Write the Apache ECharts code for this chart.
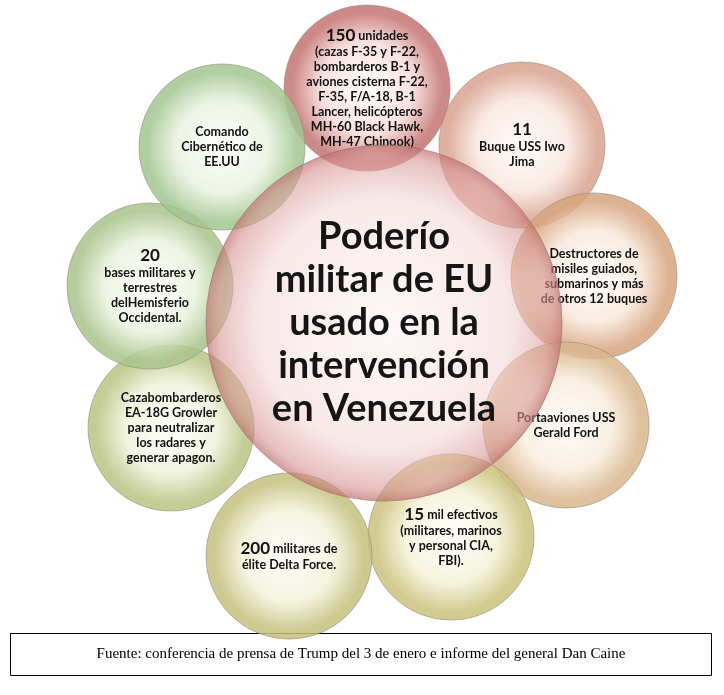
<!DOCTYPE html>
<html><head><meta charset="utf-8">
<script src="https://cdn.jsdelivr.net/npm/echarts@6/dist/echarts.min.js"></script>
<style>html,body{margin:0;background:#fff}#c{width:724px;height:695px}</style>
</head><body><div id="c"></div>
<script>
const outerX = [367, 522, 594, 566, 451, 289, 171, 150, 222];
const outerY = [88, 145, 276, 425, 537, 556, 428, 286, 147];
const outerNum = ['150', '11', '', '', '15', '200', '', '20', ''];
const outerText = [
 ' unidades\n(cazas F-35 y F-22,\nbombarderos B-1 y\naviones cisterna F-22,\nF-35, F/A-18, B-1\nLancer, helicópteros\nMH-60 Black Hawk,\nMH-47 Chinook)',
 '\nBuque USS Iwo\nJima',
 'Destructores de\nmisiles guiados,\nsubmarinos y más\nde otros 12 buques',
 'Portaaviones USS\nGerald Ford',
 ' mil efectivos\n(militares, marinos\ny personal CIA,\nFBI).',
 ' militares de\nélite Delta Force.',
 'Cazabombarderos\nEA-18G Growler\npara neutralizar\nlos radares y\ngenerar apagon.',
 '\nbases militares y\nterrestres\ndelHemisferio\nOccidental.',
 'Comando\nCibernético de\nEE.UU'
];
const outerEdge = ['196,116,114','217,162,142','214,164,126','216,182,140','203,194,124','196,192,126','184,196,130','168,196,140','162,198,144'];
const outerMid = ['246,220,218','248,230,222','248,232,218','248,236,220','244,242,216','242,242,218','238,242,218','234,242,222','232,242,224'];
const centerText = 'Poderío\nmilitar de EU\nusado en la\nintervención\nen Venezuela';
const sourceText = 'Fuente: conferencia de prensa de Trump del 3 de enero e informe del general Dan Caine';

function grad(mid, edge, a){
  return new echarts.graphic.RadialGradient(0.5,0.5,0.5,[
    {offset:0,color:'rgba(255,253,251,'+a+')'},{offset:0.55,color:'rgba('+mid+','+a+')'},
    {offset:0.9,color:'rgba('+edge+','+a+')'},{offset:1,color:'rgba('+edge+','+a+')'}]);
}
const outerData = outerX.map((x,i)=>({
  value:[x, outerY[i]],
  itemStyle:{color:grad(outerMid[i], outerEdge[i], 0.85), opacity:1, borderColor:'rgba(150,140,120,0.6)', borderWidth:1},
  label:{show:true, formatter: (outerNum[i]?'{n|'+outerNum[i]+'}':'') + '{t|'+outerText[i].split('\n').join('}\n{t|')+'}'}
}));
const chart = echarts.init(document.getElementById('c'));
chart.setOption({
  animation:false,
  grid:{left:0,right:0,top:0,bottom:0},
  xAxis:{type:'value',min:0,max:724,show:false},
  yAxis:{type:'value',min:0,max:695,inverse:true,show:false},
  graphic:[{type:'group',children:[
    {type:'rect',shape:{x:10.5,y:633.5,width:701,height:42},style:{fill:'#fff',stroke:'#000',lineWidth:1}},
    {type:'text',x:361,y:654,style:{text:sourceText,font:'15px "Liberation Serif"',fill:'#000',align:'center',verticalAlign:'middle'}}
  ]}],
  series:[
   {type:'scatter',symbol:'circle',symbolSize:166,z:2,data:outerData,itemStyle:{opacity:1},
    label:{position:'inside',color:'#111',align:'center',
      rich:{n:{fontFamily:'Lato',fontWeight:'bold',fontSize:17,color:'#111',lineHeight:18},
            t:{fontFamily:'Lato',fontWeight:'bold',fontSize:12.5,color:'#111',lineHeight:15}}}},
   {type:'scatter',symbol:'circle',symbolSize:356,z:3,itemStyle:{opacity:1},
    data:[{value:[384,323],itemStyle:{opacity:1,color:new echarts.graphic.RadialGradient(0.5,0.5,0.5,[
      {offset:0,color:'rgba(252,242,242,0.55)'},{offset:0.7,color:'rgba(244,214,214,0.55)'},{offset:0.93,color:'rgba(215,150,148,0.6)'},{offset:1,color:'rgba(190,110,108,0.7)'}]),
      borderColor:'rgba(150,110,110,0.6)',borderWidth:1}}],
    label:{show:true,position:'inside',formatter:centerText,fontFamily:'Lato',fontWeight:'bold',fontSize:38,lineHeight:43,color:'#151515',align:'center'}}
  ]
});
</script></body></html>
